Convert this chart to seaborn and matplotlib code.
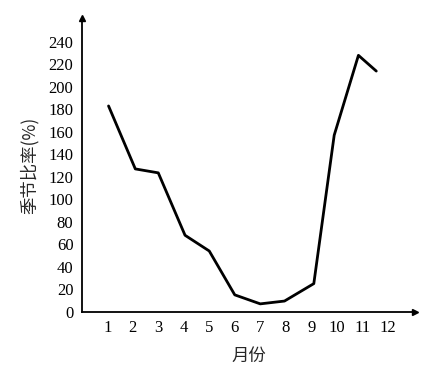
import matplotlib
matplotlib.use("Agg")
import matplotlib.pyplot as plt
import seaborn as sns
import pandas as pd

# data
months = [1.05, 2.1, 3.0, 4.05, 5.0, 6.0, 7.0, 7.95, 9.1, 9.9, 10.85, 11.55]
ratios = [183, 127, 123.5, 68, 54, 15, 7, 9.5, 25, 157, 228, 214]
xticks = list(range(1, 13))
yticks = list(range(0, 241, 20))

sns.set_style("white")
plt.rcParams['font.family'] = ['Liberation Serif', 'Noto Sans CJK SC']

fig = plt.figure(figsize=(4.42, 3.72), dpi=100)
ax = fig.add_axes([0.185, 0.162, 0.754, 0.789])

df = pd.DataFrame({"month": months, "ratio": ratios})
sns.lineplot(data=df, x="month", y="ratio", ax=ax, color="black", lw=2.0, sort=False)

ax.set_xlim(0, 13.07)
ax.set_ylim(0, 261)
ax.set_xticks(xticks)
ax.set_yticks(yticks)
ax.set_xticklabels([str(t) for t in xticks])
ax.set_yticklabels([str(t) for t in yticks])
for s in ["top", "right"]:
    ax.spines[s].set_visible(False)
for s in ["left", "bottom"]:
    ax.spines[s].set_linewidth(1.3)
    ax.spines[s].set_color("black")
ax.tick_params(axis="both", direction="in", length=4, width=1, colors="black",
               labelsize=12, pad=6)

# arrows at axis ends
ax.plot(1, 0, marker=">", color="black", ms=4, transform=ax.transAxes, clip_on=False)
ax.plot(0, 1, marker="^", color="black", ms=4, transform=ax.transAxes, clip_on=False)

ax.set_xlabel("月份", family=['Noto Sans CJK SC'], fontsize=12.5, fontweight="medium", labelpad=8)
ax.set_ylabel("季节比率(%)", family=['Noto Sans CJK SC'], fontsize=12.5, fontweight="medium", labelpad=7)

fig.savefig("out.png", dpi=100)
